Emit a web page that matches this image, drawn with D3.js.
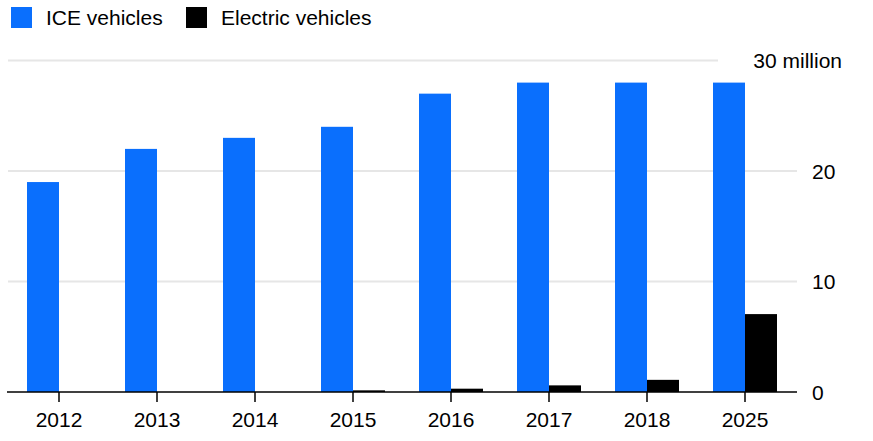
<!DOCTYPE html>
<html>
<head>
<meta charset="utf-8">
<script src="https://cdn.jsdelivr.net/npm/d3@7"></script>
<style>
  html, body { margin: 0; padding: 0; background: #fff; }
  svg { display: block; font-family: "Liberation Sans", Arial, sans-serif; }
</style>
</head>
<body>
<svg id="chart" width="873" height="441"></svg>
<script>
const years = ["2012", "2013", "2014", "2015", "2016", "2017", "2018", "2025"];
const iceValues = [19, 22, 23, 24, 27, 28, 28, 28];
const evValues = [0, 0, 0, 0.15, 0.3, 0.6, 1.1, 7.05];
const seriesNames = ["ICE vehicles", "Electric vehicles"];
const seriesColors = ["#0a6ffd", "#000000"];
const yTicks = [0, 10, 20, 30];
const yTickLabels = ["0", "10", "20", "30 million"];

const svg = d3.select("#chart");
const fontSize = 21;

const x0 = d3.scaleBand().domain(years).range([10, 794]).paddingInner(0).paddingOuter(0);
const x1 = d3.scaleBand().domain(seriesNames).range([17, 81]);
const y = d3.scaleLinear().domain([0, 30]).range([392, 60.5]);
const color = d3.scaleOrdinal().domain(seriesNames).range(seriesColors);

// gridlines
svg.append("g").selectAll("line")
  .data(yTicks.filter(d => d > 0))
  .join("line")
  .attr("x1", 8)
  .attr("x2", d => d === 30 ? 718 : 797)
  .attr("y1", d => y(d))
  .attr("y2", d => y(d))
  .attr("stroke", "#e6e6e6")
  .attr("stroke-width", 2);

// y labels
svg.append("g").selectAll("text")
  .data(yTicks)
  .join("text")
  .attr("x", (d, i) => d === 30 ? 842 : 812)
  .attr("y", d => y(d) + 7.5)
  .attr("text-anchor", d => d === 30 ? "end" : "start")
  .attr("font-size", fontSize)
  .attr("fill", "#000")
  .text((d, i) => yTickLabels[i]);

// bars
const rows = years.map((yr, i) => ({ year: yr, values: [iceValues[i], evValues[i]] }));
const groups = svg.append("g").selectAll("g")
  .data(rows)
  .join("g")
  .attr("transform", d => `translate(${x0(d.year)},0)`);
groups.selectAll("rect")
  .data(d => seriesNames.map((s, j) => ({ key: s, value: d.values[j] })))
  .join("rect")
  .attr("x", d => x1(d.key))
  .attr("width", x1.bandwidth())
  .attr("y", d => y(d.value))
  .attr("height", d => y(0) - y(d.value))
  .attr("fill", d => color(d.key));

// x axis
const xAxis = d3.axisBottom(x0).tickSize(10).tickPadding(6).tickSizeOuter(0);
const gx = svg.append("g").attr("transform", `translate(0,${y(0)})`).call(xAxis);
gx.select(".domain").remove();
gx.append("line")
  .attr("x1", 7).attr("x2", 797)
  .attr("y1", 0).attr("y2", 0)
  .attr("stroke", "#000").attr("stroke-width", 1.5);
gx.selectAll(".tick line").attr("stroke", "#000").attr("stroke-width", 1.5);
gx.selectAll(".tick text")
  .attr("font-size", fontSize)
  .attr("font-family", "Liberation Sans, Arial, sans-serif")
  .attr("fill", "#000")
  .attr("dy", null)
  .attr("y", 35);

// legend
const legendX = [11, 186];
const legend = svg.append("g").selectAll("g")
  .data(seriesNames)
  .join("g")
  .attr("transform", (d, i) => `translate(${legendX[i]},7)`);
legend.append("rect")
  .attr("width", 21).attr("height", 21)
  .attr("fill", d => color(d));
legend.append("text")
  .attr("x", 35)
  .attr("y", 17.5)
  .attr("font-size", fontSize)
  .attr("fill", "#000")
  .text(d => d);
</script>
</body>
</html>
